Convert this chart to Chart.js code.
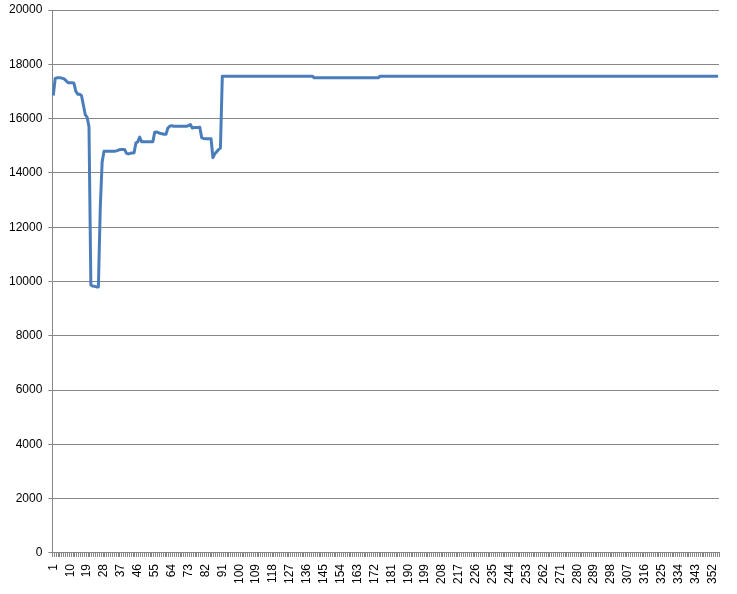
<!DOCTYPE html>
<html>
<head>
<script src="https://cdn.jsdelivr.net/npm/chart.js@4.4.0/dist/chart.umd.min.js"></script>
<style>
  body { margin: 0; background: #fff; }
</style>
</head>
<body>
<canvas id="myChart" width="737" height="594"></canvas>
<script>
// values, one per category (355 categories)
var values = [
  16850,17480,17500,17500,17500,17480,17450,17380,17320,17320,
  17320,17300,17000,16900,16900,16850,16500,16150,16050,15700,
  9870,9830,9820,9800,9800,12700,14400,14800,14800,14800,
  14800,14800,14800,14800,14820,14850,14860,14860,14860,14720,
  14700,14720,14730,14740,15100,15150,15320,15150,15150,15150,
  15150,15150,15150,15150,15500,15510,15480,15450,15440,15420,
  15420,15650,15720,15740,15720,15720,15720,15720,15720,15720,
  15720,15720,15740,15780,15650,15670,15670,15670,15680,15300,
  15270,15260,15260,15260,15260,14560,14700,14780,14860,14920,
  17560,17560,17560,17560,17560,17560,17560,17560,17560,17560,
  17560,17560,17560,17560,17560,17560,17560,17560,17560,17560,
  17560,17560,17560,17560,17560,17560,17560,17560,17560,17560,
  17560,17560,17560,17560,17560,17560,17560,17560,17560,17560,
  17560,17560,17560,17560,17560,17560,17560,17560,17560,17500,
  17500,17500,17500,17500,17500,17500,17500,17500,17500,17500,
  17500,17500,17500,17500,17500,17500,17500,17500,17500,17500,
  17500,17500,17500,17500,17500,17500,17500,17500,17500,17500,
  17500,17500,17500,17500,17560,17560,17560,17560,17560,17560,
  17560,17560,17560,17560,17560,17560,17560,17560,17560,17560,
  17560,17560,17560,17560,17560,17560,17560,17560,17560,17560,
  17560,17560,17560,17560,17560,17560,17560,17560,17560,17560,
  17560,17560,17560,17560,17560,17560,17560,17560,17560,17560,
  17560,17560,17560,17560,17560,17560,17560,17560,17560,17560,
  17560,17560,17560,17560,17560,17560,17560,17560,17560,17560,
  17560,17560,17560,17560,17560,17560,17560,17560,17560,17560,
  17560,17560,17560,17560,17560,17560,17560,17560,17560,17560,
  17560,17560,17560,17560,17560,17560,17560,17560,17560,17560,
  17560,17560,17560,17560,17560,17560,17560,17560,17560,17560,
  17560,17560,17560,17560,17560,17560,17560,17560,17560,17560,
  17560,17560,17560,17560,17560,17560,17560,17560,17560,17560,
  17560,17560,17560,17560,17560,17560,17560,17560,17560,17560,
  17560,17560,17560,17560,17560,17560,17560,17560,17560,17560,
  17560,17560,17560,17560,17560,17560,17560,17560,17560,17560,
  17560,17560,17560,17560,17560,17560,17560,17560,17560,17560,
  17560,17560,17560,17560,17560,17560,17560,17560,17560,17560,
  17560,17560,17560,17560,17560
];

// category labels 1..N, only every 9th one is printed
var categories = [];
for (var i = 0; i < values.length; i++) categories.push(String(i + 1));
var labelStep = 9;

var yMin = 0, yMax = 20000, yStep = 2000;

var gridColor = '#868686';

var ctx = document.getElementById('myChart');
var chart = new Chart(ctx, {
  type: 'line',
  data: {
    labels: categories,
    datasets: [{
      data: values,
      borderColor: '#4a7ebb',
      borderWidth: 3,
      pointRadius: 0,
      tension: 0,
      borderJoinStyle: 'round',
      fill: false
    }]
  },
  options: {
    responsive: false,
    animation: false,
    layout: { padding: { top: 10, right: 18, left: 3, bottom: 3 } },
    plugins: { legend: { display: false }, tooltip: { enabled: false } },
    scales: {
      x: {
        offset: true,
        afterFit: function (scale) { scale.paddingRight = 0; scale.paddingLeft = 0; },
        grid: {
          drawOnChartArea: false,
          drawTicks: true,
          tickLength: 4,
          color: gridColor,
          offset: true
        },
        border: { color: gridColor },
        ticks: {
          autoSkip: false,
          maxRotation: 90,
          minRotation: 90,
          padding: 7,
          color: '#000',
          font: { family: 'Liberation Sans', size: 12 },
          callback: function (v, idx) {
            return idx % labelStep === 0 ? categories[idx] : '';
          }
        }
      },
      y: {
        min: yMin,
        max: yMax,
        afterFit: function (scale) { scale.paddingTop = 0; scale.paddingBottom = 0; },
        grid: { color: gridColor, tickLength: 4 },
        border: { color: gridColor },
        ticks: {
          stepSize: yStep,
          padding: 6,
          color: '#000',
          font: { family: 'Liberation Sans', size: 12 },
          callback: function (v) { return String(v); }
        }
      }
    }
  }
});
</script>
</body>
</html>
